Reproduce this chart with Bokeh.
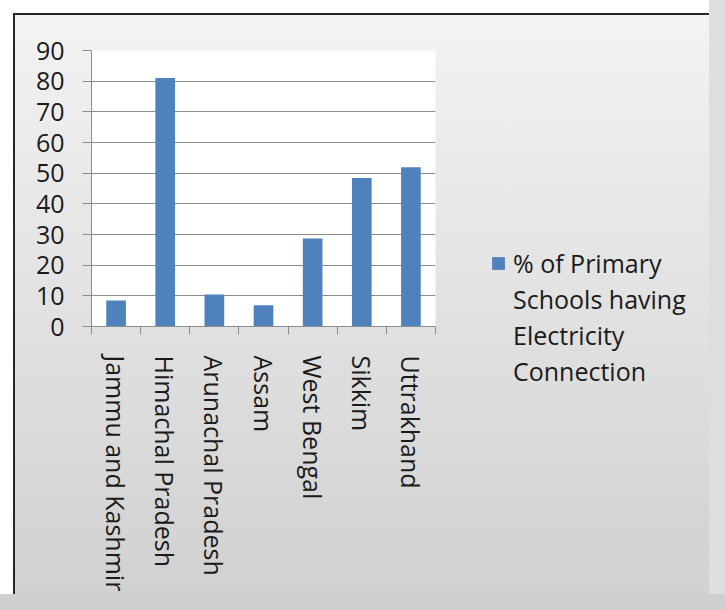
from bokeh.plotting import figure
from bokeh.models import Range1d, FixedTicker, Legend, LegendItem, ColumnDataSource, Row
from bokeh.embed import file_html
from bokeh.resources import INLINE

states = ["Jammu and Kashmir", "Himachal Pradesh", "Arunachal Pradesh", "Assam",
          "West Bengal", "Sikkim", "Uttrakhand"]
pct_electricity = [8.5, 81.0, 10.4, 6.9, 28.7, 48.4, 51.9]
y_ticks = [0, 10, 20, 30, 40, 50, 60, 70, 80, 90]
series_lines = ["% of Primary", "Schools having", "Electricity", "Connection"]

FONT = "Open Sans"
FS = "25px"
BAR = "#4f81bd"
xpos = [i + 0.5 for i in range(len(states))]
src = ColumnDataSource(dict(x=xpos, top=pct_electricity, name=states))

# ---- main chart ----
p = figure(width=474, height=594, x_range=Range1d(0, len(states)), y_range=Range1d(0, 90),
           output_backend="svg", toolbar_location=None,
           min_border_left=91, min_border_right=39, min_border_top=50, min_border_bottom=266)
p.frame_align = False
p.border_fill_color = None
p.background_fill_color = "white"
p.outline_line_color = None

p.vbar(x="x", top="top", width=0.4, bottom=0, source=src, fill_color=BAR, line_color=None)

p.yaxis.ticker = FixedTicker(ticks=y_ticks)
p.yaxis.axis_line_color = "#8c8c8c"
p.yaxis.major_tick_line_color = "#8c8c8c"
p.yaxis.major_tick_out = 9
p.yaxis.major_tick_in = 0
p.yaxis.minor_tick_line_color = None
p.yaxis.major_label_standoff = 18
p.yaxis.major_label_text_font = FONT
p.yaxis.major_label_text_font_size = FS
p.yaxis.major_label_text_color = "#1a1a1a"

p.ygrid.ticker = FixedTicker(ticks=y_ticks)
p.ygrid.grid_line_color = "#8c8c8c"
p.ygrid.grid_line_width = 1
p.xgrid.grid_line_color = None

p.xaxis.ticker = FixedTicker(ticks=xpos, minor_ticks=list(range(len(states) + 1)))
p.xaxis.major_label_overrides = {x: s for x, s in zip(xpos, states)}
p.xaxis.major_label_orientation = "vertical"
p.xaxis.major_tick_line_color = None
p.xaxis.major_tick_out = 0
p.xaxis.major_tick_in = 0
p.xaxis.minor_tick_line_color = "#8c8c8c"
p.xaxis.minor_tick_out = 8
p.xaxis.minor_tick_in = 0
p.xaxis.axis_line_color = "#8c8c8c"
p.xaxis.major_label_standoff = 21
p.xaxis.major_label_text_font = FONT
p.xaxis.major_label_text_font_size = FS
p.xaxis.major_label_text_color = "#1a1a1a"

# ---- legend panel (series key only; its ranges keep the bars out of view) ----
q = figure(width=235, height=594, output_backend="svg", toolbar_location=None,
           x_range=Range1d(-20, -10), y_range=Range1d(-20, -10),
           x_axis_location=None, y_axis_location=None,
           min_border_left=0, min_border_right=0, min_border_top=0, min_border_bottom=0)
q.frame_align = False
q.border_fill_color = None
q.background_fill_color = None
q.outline_line_color = None
q.xgrid.grid_line_color = None
q.ygrid.grid_line_color = None
q.xgrid.visible = False
q.ygrid.visible = False
key = q.vbar(x="x", top="top", width=0.4, bottom=0, source=src, fill_color=BAR, line_color=None)
blank = q.scatter(x="x", y="top", source=src, alpha=0)

items = [LegendItem(label=series_lines[0], renderers=[key])]
items += [LegendItem(label=t, renderers=[blank]) for t in series_lines[1:]]
legend = Legend(items=items, location=(16, 205), padding=0, margin=0, spacing=0,
                border_line_color=None, background_fill_alpha=0,
                glyph_width=16, glyph_height=16, label_standoff=7, label_height=36,
                label_text_font=FONT, label_text_font_size=FS,
                label_text_color="#1a1a1a")
q.add_layout(legend)

layout = Row(children=[p, q], spacing=0)
layout.styles = {
    "background": "linear-gradient(#262626, #262626) 13px 13px / 100% 2px no-repeat, "
                  "linear-gradient(#262626, #262626) 13px 13px / 2px 100% no-repeat, "
                  "linear-gradient(to bottom, #f3f3f3, #d0d0d0) 13px 13px / 100% 100% no-repeat, #ffffff",
    "box-shadow": "16px 0 0 #dedede, 0 16px 0 #cfcfcf, 16px 16px 0 #cfcfcf",
}

open("out.html", "w").write(file_html(layout, INLINE))
